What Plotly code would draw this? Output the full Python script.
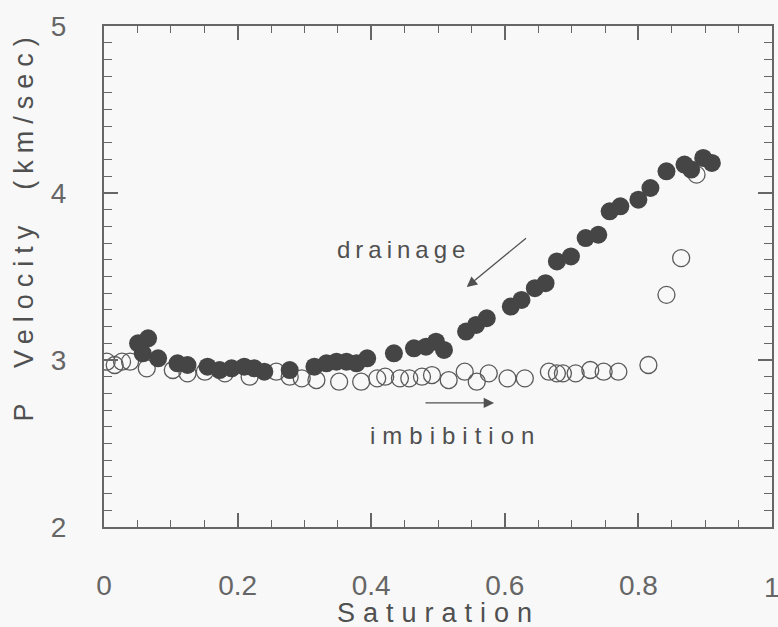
import plotly.graph_objects as go

# Drainage (filled circles)
drain_x = [0.051, 0.066, 0.058, 0.081, 0.110, 0.125, 0.155, 0.173, 0.191, 0.210, 0.225, 0.240,
           0.278, 0.315, 0.333, 0.348, 0.363, 0.378, 0.394, 0.434, 0.464, 0.482, 0.497, 0.509,
           0.542, 0.557, 0.573, 0.609, 0.625, 0.645, 0.661, 0.678, 0.699, 0.721, 0.740, 0.757,
           0.773, 0.800, 0.818, 0.842, 0.869, 0.879, 0.897, 0.910]
drain_y = [3.10, 3.13, 3.04, 3.01, 2.98, 2.97, 2.96, 2.94, 2.95, 2.96, 2.95, 2.93,
           2.94, 2.96, 2.98, 2.99, 2.99, 2.98, 3.01, 3.04, 3.07, 3.08, 3.11, 3.06,
           3.17, 3.21, 3.25, 3.32, 3.36, 3.43, 3.46, 3.59, 3.62, 3.73, 3.75, 3.89,
           3.92, 3.96, 4.03, 4.13, 4.17, 4.14, 4.21, 4.18]

# Imbibition (open circles)
imb_x = [0.004, 0.016, 0.027, 0.039, 0.064, 0.103, 0.125, 0.151, 0.181, 0.218, 0.258, 0.278,
         0.296, 0.318, 0.352, 0.385, 0.409, 0.421, 0.443, 0.457, 0.476, 0.491, 0.516, 0.540,
         0.558, 0.576, 0.604, 0.630, 0.666, 0.678, 0.687, 0.706, 0.728, 0.748, 0.770, 0.815,
         0.842, 0.864, 0.887]
imb_y = [2.99, 2.97, 2.99, 2.99, 2.95, 2.94, 2.92, 2.93, 2.92, 2.90, 2.93, 2.90,
         2.89, 2.88, 2.87, 2.87, 2.89, 2.90, 2.89, 2.89, 2.90, 2.91, 2.88, 2.93,
         2.87, 2.92, 2.89, 2.89, 2.93, 2.92, 2.92, 2.92, 2.94, 2.93, 2.93, 2.97,
         3.39, 3.61, 4.11]

x_ticks = [0, 0.2, 0.4, 0.6, 0.8]
x_labels = ["0", "0.2", "0.4", "0.6", "0.8"]
x_last_tick = 1
x_last_label = "1"
y_ticks = [2, 3, 4, 5]
y_labels = ["2", "3", "4", "5"]

AX = "#666666"
TXT = "#505050"
FONT = "Liberation Sans, Arial"

fig = go.Figure()
fig.add_trace(go.Scatter(x=imb_x, y=imb_y, mode="markers",
                         marker=dict(symbol="circle-open", size=17, color="#5a5a5a",
                                     line=dict(width=1.3, color="#5a5a5a")),
                         showlegend=False))
fig.add_trace(go.Scatter(x=drain_x, y=drain_y, mode="markers",
                         marker=dict(symbol="circle", size=18, color="#454545",
                                     line=dict(width=0)),
                         showlegend=False))

axis_common = dict(
    showgrid=False, zeroline=False, showline=True, linecolor=AX, linewidth=2,
    mirror="ticks", ticks="inside", ticklen=14, tickwidth=1.6, tickcolor=AX,
    tickfont=dict(family=FONT, size=28, color="#666666"),
)
fig.update_xaxes(range=[0, 1], tickvals=x_ticks + [x_last_tick], ticktext=x_labels + [""],
                 minor=dict(dtick=0.05, ticks="inside", ticklen=7, tickwidth=1.4, tickcolor=AX),
                 ticklabelstandoff=32, **axis_common)
fig.update_yaxes(range=[2, 5], tickvals=y_ticks, ticktext=y_labels,
                 minor=dict(dtick=0.1, ticks="inside", ticklen=8, tickwidth=1.4, tickcolor=AX),
                 ticklabelstandoff=30, **axis_common)

# last x tick label, partly cut by the page edge as in the reference
fig.add_annotation(x=x_last_tick, y=0, xref="x", yref="paper", yshift=-60,
                   text=x_last_label, showarrow=False, xanchor="center", yanchor="middle",
                   font=dict(family=FONT, size=28, color="#666666"))

fig.add_annotation(x=0.5, y=0, xref="paper", yref="paper", yshift=-86,
                   xanchor="center", yanchor="middle",
                   text='<span style="letter-spacing:8px">Saturation</span>',
                   showarrow=False, font=dict(family=FONT, size=27, color=TXT))
fig.add_annotation(x=0, y=0.6, xref="paper", yref="paper", xshift=-80, textangle=-90,
                   xanchor="center", yanchor="middle",
                   text='<span style="letter-spacing:7px">P  Velocity  (km/sec)</span>',
                   showarrow=False, font=dict(family=FONT, size=27, color=TXT))
fig.add_annotation(x=0.449, y=3.66, xref="x", yref="y",
                   text='<span style="letter-spacing:5px">drainage</span>',
                   showarrow=False, font=dict(family=FONT, size=24, color=TXT))
fig.add_annotation(x=0.526, y=2.55, xref="x", yref="y",
                   text='<span style="letter-spacing:7px">imbibition</span>',
                   showarrow=False, font=dict(family=FONT, size=24, color=TXT))
fig.add_annotation(x=0.543, y=3.437, ax=0.634, ay=3.737, xref="x", yref="y",
                   axref="x", ayref="y", text="", showarrow=True,
                   arrowhead=2, arrowsize=1.6, arrowwidth=1.3, arrowcolor=TXT)
fig.add_annotation(x=0.584, y=2.743, ax=0.479, ay=2.743, xref="x", yref="y",
                   axref="x", ayref="y", text="", showarrow=True,
                   arrowhead=2, arrowsize=1.6, arrowwidth=1.3, arrowcolor=TXT)

fig.update_layout(width=778, height=627,
                  margin=dict(l=104, r=4, t=26, b=100),
                  paper_bgcolor="#f8f8f8", plot_bgcolor="#f8f8f8")
fig.write_html("out.html")
